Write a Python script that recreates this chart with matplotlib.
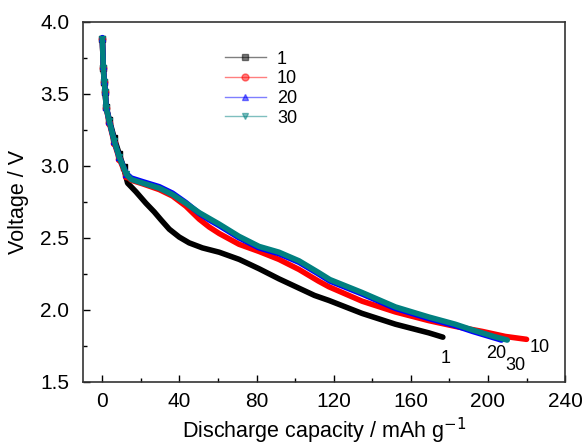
import numpy as np
import matplotlib.pyplot as plt
from matplotlib.lines import Line2D
from matplotlib.ticker import MultipleLocator

plt.rcParams['font.family'] = ['Liberation Sans', 'DejaVu Sans']

# cycle 1
x1 = [0, 0.5, 1, 1.5, 2, 3.6, 6.2, 8.8, 11, 13.1, 17.4, 22.6, 26.9, 30.4, 34.7, 39.9, 45,
      51.9, 60.6, 71, 81.3, 91.6, 102, 110, 117.5, 134.7, 152, 169.3, 176.6]
v1 = [3.88, 3.68, 3.58, 3.51, 3.41, 3.32, 3.19, 3.08, 2.99, 2.88, 2.82, 2.74, 2.68, 2.625,
      2.56, 2.505, 2.465, 2.43, 2.40, 2.35, 2.285, 2.215, 2.15, 2.10, 2.065, 1.975, 1.90,
      1.84, 1.81]
# cycle 10
x10 = [0, 0.5, 1, 1.5, 2, 3.6, 6.2, 8.8, 12.5, 15, 20.9, 29.5, 36.4, 43.3, 50.2, 55.4,
       60.6, 70.9, 81.3, 91.6, 102, 112, 117.5, 134.7, 152, 169.3, 183, 197, 209, 220]
v10 = [3.88, 3.68, 3.58, 3.51, 3.40, 3.30, 3.16, 3.05, 2.93, 2.90, 2.875, 2.835, 2.79,
       2.72, 2.63, 2.575, 2.53, 2.455, 2.405, 2.35, 2.28, 2.20, 2.16, 2.06, 1.985, 1.925,
       1.885, 1.85, 1.815, 1.795]
# cycle 20
x20 = [0, 0.5, 1, 1.5, 2, 3.6, 6.2, 8.8, 12.5, 15, 20.9, 29.5, 36.4, 43.3, 50.2, 55.4,
       60.6, 70.9, 81.3, 91.6, 102, 112, 118, 134.7, 152, 169.3, 183, 192, 202, 207]
v20 = [3.89, 3.69, 3.59, 3.52, 3.41, 3.31, 3.17, 3.06, 2.945, 2.915, 2.89, 2.855, 2.81,
       2.745, 2.67, 2.625, 2.585, 2.50, 2.43, 2.39, 2.33, 2.25, 2.20, 2.11, 2.01, 1.94,
       1.89, 1.85, 1.81, 1.79]
# cycle 30
x30 = [0, 0.5, 1, 1.5, 2, 3.6, 6.2, 8.8, 12.5, 15, 20.9, 29.5, 36.4, 43.3, 50.2, 55.4,
       60.6, 70.9, 81.3, 91.6, 102, 112, 118, 134.7, 152, 169.3, 183, 192, 203, 210]
v30 = [3.88, 3.68, 3.58, 3.51, 3.40, 3.31, 3.17, 3.06, 2.94, 2.905, 2.88, 2.845, 2.80,
       2.74, 2.675, 2.635, 2.595, 2.51, 2.44, 2.40, 2.34, 2.26, 2.21, 2.12, 2.02, 1.95,
       1.90, 1.86, 1.815, 1.79]

labels = ['1', '10', '20', '30']
colors = ['black', '#ff0000', '#0000ff', '#008080']
markers = ['s', 'o', '^', 'v']
series = [(x1, v1), (x10, v10), (x20, v20), (x30, v30)]
end_labels = [(178, 1.665), (227, 1.74), (204, 1.70), (214, 1.61)]

fig = plt.figure(figsize=(5.85, 4.45), dpi=100)
ax = fig.add_axes([0.142, 0.142, 0.824, 0.809])

for (xs, vs), c, m in zip(series, colors, markers):
    ax.plot(xs, vs, color=c, lw=4, solid_capstyle='round', solid_joinstyle='round')
    # separate markers are only visible on the steep start of the curves
    ax.plot(xs[:9], vs[:9], ls='none', marker=m, ms=4.5, color=c)

for lab, (tx, ty) in zip(labels, end_labels):
    ax.text(tx, ty, lab, fontsize=13, ha='center', va='center')

handles = [Line2D([], [], color=c, lw=1, alpha=0.5, marker=m, ms=5,
                  markerfacecolor=c, markeredgecolor=c)
           for c, m in zip(colors, markers)]
ax.legend(handles, labels, loc='upper left', bbox_to_anchor=(0.26, 0.965),
          frameon=False, fontsize=13, handlelength=2.3, labelspacing=0.15,
          handletextpad=0.6)

ax.set_xlim(-10, 240)
ax.set_ylim(1.5, 4.0)
ax.xaxis.set_major_locator(MultipleLocator(40))
ax.xaxis.set_minor_locator(MultipleLocator(20))
ax.yaxis.set_major_locator(MultipleLocator(0.5))
ax.yaxis.set_minor_locator(MultipleLocator(0.25))
ax.yaxis.set_major_formatter(plt.FormatStrFormatter('%.1f'))
ax.tick_params(which='major', direction='in', length=5, width=1, labelsize=15)
ax.tick_params(axis='x', which='major', pad=7)
ax.tick_params(axis='y', which='major', pad=10)
ax.tick_params(which='minor', direction='in', length=3, width=1)
for s in ax.spines.values():
    s.set_linewidth(1.2)
    s.set_color('#333333')

ax.set_xlabel('Discharge capacity / mAh g$^{-1}$', fontsize=15.5, labelpad=4)
ax.set_ylabel('Voltage / V', fontsize=15.5, labelpad=8)

fig.savefig('out.png', dpi=100)
